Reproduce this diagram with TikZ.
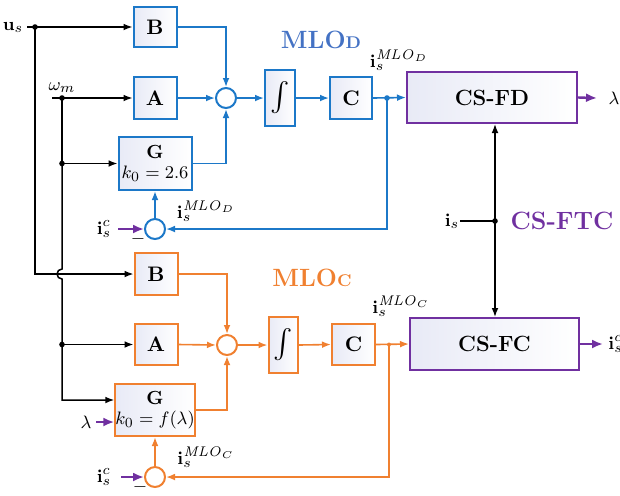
\documentclass[tikz,border=0pt]{standalone}
\usepackage{graphicx}
\usetikzlibrary{arrows.meta,calc}
\definecolor{lb}{RGB}{28,120,200}
\definecolor{tb}{RGB}{68,114,196}
\definecolor{lo}{RGB}{240,128,48}
\definecolor{pu}{RGB}{112,48,160}
\definecolor{bf}{RGB}{232,234,246}
\begin{document}
\begin{tikzpicture}[x=0.5pt,y=-0.5pt,font=\fontsize{9.5}{11}\selectfont,
  >={Latex[length=4.5pt,width=3.4pt]},
  box/.style={draw,line width=1pt,left color=bf,right color=white,inner sep=0pt,align=center},
  bbox/.style={box,draw=lb},
  obox/.style={box,draw=lo},
  pbox/.style={box,draw=pu},
  bt/.style={font=\bfseries\fontsize{10.5}{11}\selectfont},
  sumc/.style={circle,draw,line width=1pt,minimum size=10pt,inner sep=0pt,fill=white},
  kl/.style={line width=0.75pt,black},
  bl/.style={line width=0.8pt,lb,->},
  ol/.style={line width=0.8pt,lo,->},
  pl/.style={line width=1.2pt,pu,->,>={Latex[length=5.5pt,width=4.5pt]}},
  dot/.style={circle,fill,inner sep=0pt,minimum size=2.8pt},
  lbl/.style={inner sep=1pt}]
\clip (0,0) rectangle (620,495);
% ---------- blue MLO_D ----------
\node[bbox,bt,minimum width=21.5pt,minimum height=20pt] (Bd) at (155,27) {B};
\node[bbox,bt,minimum width=21.5pt,minimum height=21pt] (Ad) at (155,98) {A};
\node[bbox,minimum width=36.5pt,minimum height=26.5pt] (Gd) at (155,163.5) {\textbf{G}\\[-1pt]$k_0=2.6$};
\node[sumc,draw=lb] (sumD) at (226,98) {};
\node[bbox,minimum width=15pt,minimum height=28pt] (intD) at (280,98) {\scalebox{1.45}{$\int$}};
\node[bbox,bt,minimum width=21pt,minimum height=21pt] (Cd) at (351,98) {C};
\node[pbox,font=\bfseries\fontsize{11}{12}\selectfont,minimum width=85pt,minimum height=25.5pt] (FD) at (492,97.5) {CS-FD};
\node[sumc,draw=lb] (sumD2) at (155,229) {};
\coordinate (dD) at (387,98);
% ---------- orange MLO_C ----------
\node[obox,bt,minimum width=21.5pt,minimum height=21pt] (Bo) at (156,274) {B};
\node[obox,bt,minimum width=21.5pt,minimum height=20.5pt] (Ao) at (156,344.5) {A};
\node[obox,minimum width=36.5pt,minimum height=26pt] (Go) at (155,410) {\textbf{G}\\[-1pt]$k_0=f(\lambda)$};
\node[sumc,draw=lo] (sumO) at (227,345) {};
\node[obox,minimum width=14.5pt,minimum height=28pt] (intO) at (283,345) {\scalebox{1.45}{$\int$}};
\node[obox,bt,minimum width=21.5pt,minimum height=20.5pt] (Co) at (353.5,344.5) {C};
\node[pbox,font=\bfseries\fontsize{11}{12}\selectfont,minimum width=84.5pt,minimum height=26pt] (FC) at (494.5,344) {CS-FC};
\node[sumc,draw=lo] (sumO2) at (155,477) {};
\coordinate (dO) at (389,344.5);
% ---------- labels ----------
\node[lbl] (us) at (13,27) {$\mathbf{u}_s$};
\node[lbl] (wm) at (62,88) {$\omega_m$};
\node[lbl] (icD) at (104,229) {$\mathbf{i}_s^c$};
\node[lbl] (icO) at (104,477) {$\mathbf{i}_s^c$};
\node[lbl] (lamI) at (86,422) {$\lambda$};
\node[lbl] (lamO) at (614,98) {$\lambda$};
\node[lbl,anchor=west] (icOut) at (606,344) {$\mathbf{i}_s^c$};
\node[lbl] (isl) at (452,221) {$\mathbf{i}_s$};
\node[lbl] (mD1) at (399,60) {$\mathbf{i}_s^{\mathit{MLO}_D}$};
\node[lbl] (mD2) at (206,211) {$\mathbf{i}_s^{\mathit{MLO}_D}$};
\node[lbl] (mC1) at (401,306) {$\mathbf{i}_s^{\mathit{MLO}_C}$};
\node[lbl] (mC2) at (206,457) {$\mathbf{i}_s^{\mathit{MLO}_C}$};
\node[lbl] (neg1) at (138,239) {$-$};
\node[lbl] (neg2) at (140,487) {$-$};
\node[tb,font=\bfseries\fontsize{12.5}{13}\selectfont] (tD) at (321,40) {MLO{\fontsize{8.5}{9}\selectfont D}};
\node[lo,font=\bfseries\fontsize{12.5}{13}\selectfont] (tC) at (312,278) {MLO{\fontsize{8.5}{9}\selectfont C}};
\node[pu,font=\bfseries\fontsize{12.5}{13}\selectfont] (tF) at (562,221) {CS-FTC};
% ---------- black input network ----------
\coordinate (us0) at (27,27);
\coordinate (j1) at (35,27);
\coordinate (w0) at (52,98);
\coordinate (j2) at (62,98);
\coordinate (j3) at (62,163.5);
\coordinate (j4) at (62,344.5);
\draw[kl,->] (us0) -- (Bd.west);
\draw[kl,->] (j1) |- (Bo.west);
\draw[kl,->] (w0) -- (Ad.west);
\draw[kl,->] (j2) |- (Gd.west);
\draw[kl] (j2) -- (j3);
\draw[kl,->] (j3) -- ++(0,105.5) arc (270:90:5) |- ([yshift=5pt]Go.west);
\draw[kl,->] (j4) -- (Ao.west);
\foreach \p in {j1,j2,j3,j4} \node[dot] at (\p) {};
% ---------- blue connectors ----------
\draw[bl] (Bd.east) -| (sumD.north);
\draw[bl] (Ad.east) -- (sumD.west);
\draw[bl] (Gd.east) -| (sumD.south);
\draw[bl] (sumD.east) -- (intD.west);
\draw[bl] (intD.east) -- (Cd.west);
\draw[bl] (Cd.east) -- (FD.west);
\draw[bl] (dD) |- (sumD2.east);
\draw[bl] (sumD2.north) -- (Gd.south);
\node[dot,lb] at (dD) {};
% ---------- orange connectors ----------
\draw[ol] (Bo.east) -| (sumO.north);
\draw[ol] (Ao.east) -- (sumO.west);
\draw[ol] (Go.east) -| (sumO.south);
\draw[ol] (sumO.east) -- (intO.west);
\draw[ol] (intO.east) -- (Co.west);
\draw[ol] (Co.east) -- (FC.west);
\draw[ol] (dO) |- (sumO2.east);
\draw[ol] (sumO2.north) -- (Go.south);
\node[dot,lo,minimum size=2pt] at (dO) {};
% ---------- purple ----------
\coordinate (pc1) at (118,229);
\coordinate (pc2) at (121,477);
\coordinate (pl0) at (96,422);
\coordinate (fdo) at (597,98);
\coordinate (fco) at (603,344);
\draw[pl] (pc1) -- (sumD2.west);
\draw[pl] (pc2) -- (sumO2.west);
\draw[pl] (pl0) -- ([yshift=-6pt]Go.west);
\draw[pl] (FD.east) -- (fdo);
\draw[pl] (FC.east) -- (fco);
% ---------- CS-FTC link ----------
\coordinate (jt) at (495,221);
\coordinate (is0) at (460,221);
\draw[kl,<->] (FD.south -| jt) -- (FC.north -| jt);
\draw[kl] (is0) -- (jt);
\node[dot] at (jt) {};
\end{tikzpicture}
\end{document}
